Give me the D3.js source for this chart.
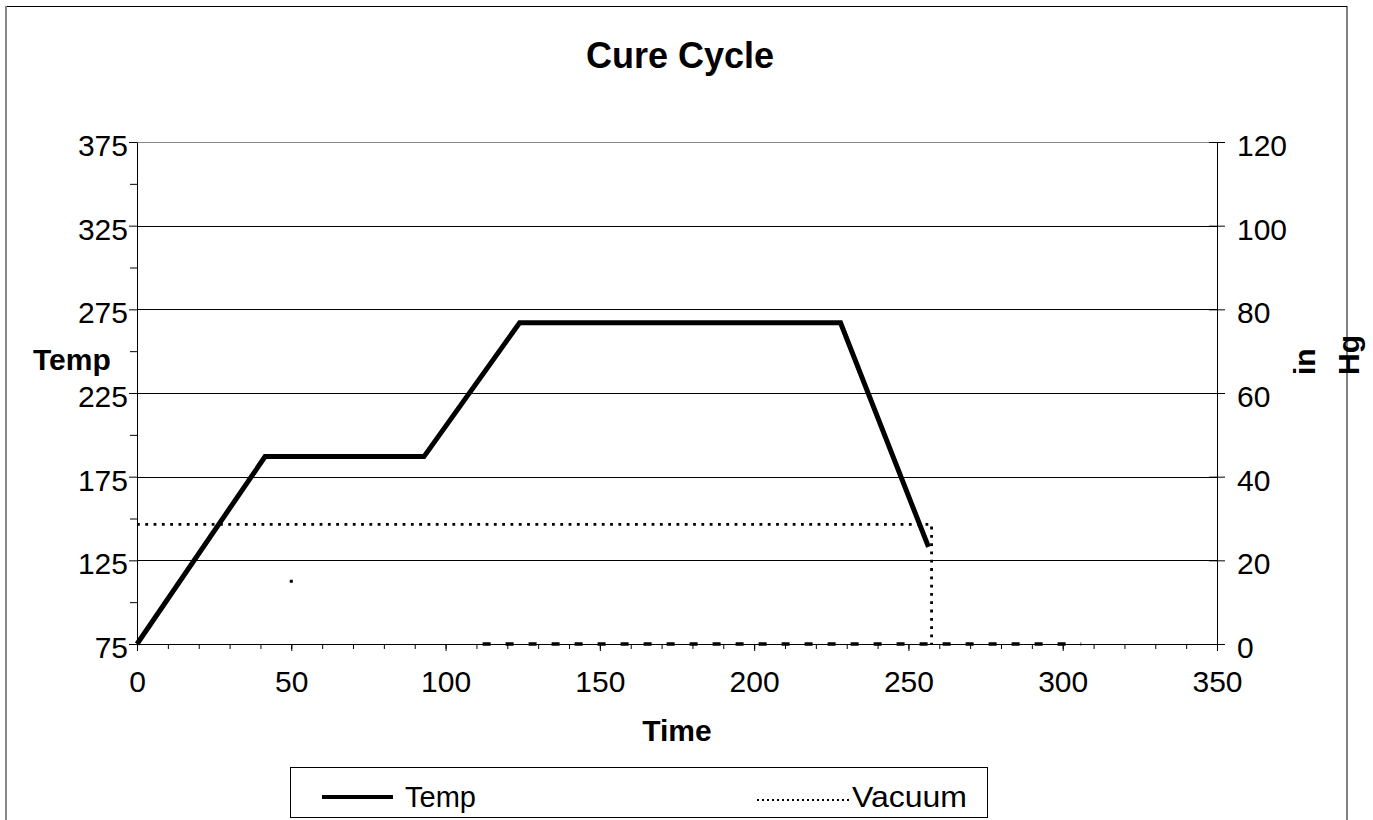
<!DOCTYPE html>
<html><head><meta charset="utf-8">
<script src="https://cdn.jsdelivr.net/npm/d3@7"></script>
<style>
body{margin:0;background:#fff}
svg{display:block;font-family:"Liberation Sans",Arial,sans-serif}
</style>
</head><body>
<svg id="c" width="1373" height="820"></svg>
<script>
// ---- data ----
const tempTime = [0, 41.5, 93, 124, 228, 256.5];
const tempValues = [75, 187, 187, 267, 267, 133];
const vacuumTime = [0, 257.5, 257.5];
const vacuumValues = [28.6, 28.6, 0];
const baseTime = [112, 306];
const baseValues = [0, 0];
const markerTime = [50];
const markerValues = [15];
const xTicks = [0, 50, 100, 150, 200, 250, 300, 350];
const xMinor = d3.range(0, 351, 10);
const leftTicks = [75, 125, 175, 225, 275, 325, 375];
const leftMinor = [100, 150, 200, 250, 300, 350];
const rightTicks = [0, 20, 40, 60, 80, 100, 120];
const legendLabels = ["Temp", "Vacuum"];

const svg = d3.select("#c");
const X0 = 137, X1 = 1217, YT = 142, YB = 644;
const x = d3.scaleLinear().domain([0, 350]).range([X0, X1]);
const yL = d3.scaleLinear().domain([75, 375]).range([YB, YT]);
const yR = d3.scaleLinear().domain([0, 120]).range([YB, YT]);

// outer frame
svg.append("line").attr("x1", 6).attr("x2", 1347).attr("y1", 6.5).attr("y2", 6.5).attr("stroke", "#000");
svg.append("line").attr("x1", 6).attr("x2", 6).attr("y1", 6).attr("y2", 820).attr("stroke", "#888").attr("stroke-width", 2);
svg.append("line").attr("x1", 1347).attr("x2", 1347).attr("y1", 6).attr("y2", 820).attr("stroke", "#000");

// title
svg.append("text").attr("x", 680).attr("y", 68).attr("text-anchor", "middle")
  .attr("font-size", 36).attr("font-weight", "bold").text("Cure Cycle");

// gridlines
svg.append("g").selectAll("line").data(leftTicks.slice(1)).join("line")
  .attr("x1", X0).attr("x2", X1)
  .attr("y1", d => Math.round(yL(d)) + 0.5).attr("y2", d => Math.round(yL(d)) + 0.5)
  .attr("stroke", d => d === 375 ? "#888" : "#000").attr("stroke-width", 1);

function styleAxis(g) {
  g.select(".domain").attr("stroke", "#000");
  g.selectAll(".tick line").attr("stroke", "#000");
  g.selectAll(".tick text").attr("font-size", 30).attr("fill", "#000")
    .attr("font-family", "Liberation Sans, Arial, sans-serif");
}

// x axis minor + major
const gxm = svg.append("g").attr("transform", `translate(0,${YB})`)
  .call(d3.axisBottom(x).tickValues(xMinor).tickSize(5).tickFormat(""));
gxm.select(".domain").remove();
gxm.selectAll(".tick line").attr("stroke", "#000");
const gx = svg.append("g").attr("transform", `translate(0,${YB})`)
  .call(d3.axisBottom(x).tickValues(xTicks).tickSizeInner(7).tickSizeOuter(0).tickPadding(20));
styleAxis(gx);
gx.selectAll(".tick text").attr("dy", "0.71em");

// left axis
const gym = svg.append("g").attr("transform", `translate(${X0},0)`)
  .call(d3.axisLeft(yL).tickValues(leftMinor).tickSize(7).tickFormat(""));
gym.select(".domain").remove();
gym.selectAll(".tick line").attr("stroke", "#000");
const gy = svg.append("g").attr("transform", `translate(${X0},0)`)
  .call(d3.axisLeft(yL).tickValues(leftTicks).tickSizeInner(8).tickSizeOuter(0).tickPadding(1));
styleAxis(gy);
gy.selectAll(".tick text").attr("dy", "0.45em");

// right axis
const gr = svg.append("g").attr("transform", `translate(${X1},0)`)
  .call(d3.axisRight(yR).tickValues(rightTicks).tickSizeInner(8).tickSizeOuter(0).tickPadding(12));
styleAxis(gr);
gr.selectAll(".tick line").attr("x1", -8);
gr.selectAll(".tick text").attr("dy", "0.45em");

// axis titles
svg.append("text").attr("x", 33).attr("y", 370).attr("font-size", 30).attr("font-weight", "bold").text("Temp");
svg.append("text").attr("x", 677).attr("y", 741).attr("text-anchor", "middle").attr("font-size", 30).attr("font-weight", "bold").text("Time");
svg.append("text").attr("transform", "translate(1315,375) rotate(-90)").attr("font-size", 30).attr("font-weight", "bold").text("in");
svg.append("text").attr("transform", "translate(1359,375) rotate(-90)").attr("font-size", 30).attr("font-weight", "bold").text("Hg");

// series
const tempData = tempTime.map((t, i) => [t, tempValues[i]]);
const vacData = vacuumTime.map((t, i) => [t, vacuumValues[i]]);
const baseData = baseTime.map((t, i) => [t, baseValues[i]]);
const lineL = d3.line().x(d => x(d[0])).y(d => yL(d[1]));
const lineR = d3.line().x(d => x(d[0])).y(d => yR(d[1]));

svg.append("path").datum(baseData).attr("d", lineR).attr("fill", "none")
  .attr("stroke", "#000").attr("stroke-width", 3.5).attr("stroke-dasharray", "8,15");
svg.append("path").datum(vacData).attr("d", lineR).attr("fill", "none")
  .attr("stroke", "#000").attr("stroke-width", 2.8).attr("stroke-dasharray", "2.8,5.5");
svg.append("path").datum(tempData).attr("d", lineL).attr("fill", "none")
  .attr("stroke", "#000").attr("stroke-width", 5).attr("stroke-linejoin", "miter");
svg.append("g").selectAll("rect").data(markerTime.map((t, i) => [t, markerValues[i]])).join("rect")
  .attr("x", d => x(d[0]) - 1.5).attr("y", d => yR(d[1]) - 1.5).attr("width", 3).attr("height", 3).attr("fill", "#000");

// legend
const lg = svg.append("g");
lg.append("rect").attr("x", 290.5).attr("y", 767.5).attr("width", 697).attr("height", 50)
  .attr("fill", "#fff").attr("stroke", "#000");
lg.append("line").attr("x1", 322).attr("x2", 393).attr("y1", 797).attr("y2", 797).attr("stroke", "#000").attr("stroke-width", 4);
lg.append("text").attr("x", 405).attr("y", 807).attr("font-size", 29).text(legendLabels[0]);
lg.append("line").attr("x1", 757).attr("x2", 850).attr("y1", 800).attr("y2", 800).attr("stroke", "#000")
  .attr("stroke-width", 2).attr("stroke-dasharray", "2,3");
lg.append("text").attr("x", 852).attr("y", 807).attr("font-size", 29)
  .attr("textLength", 115).attr("lengthAdjust", "spacingAndGlyphs").text(legendLabels[1]);
</script>
</body></html>
